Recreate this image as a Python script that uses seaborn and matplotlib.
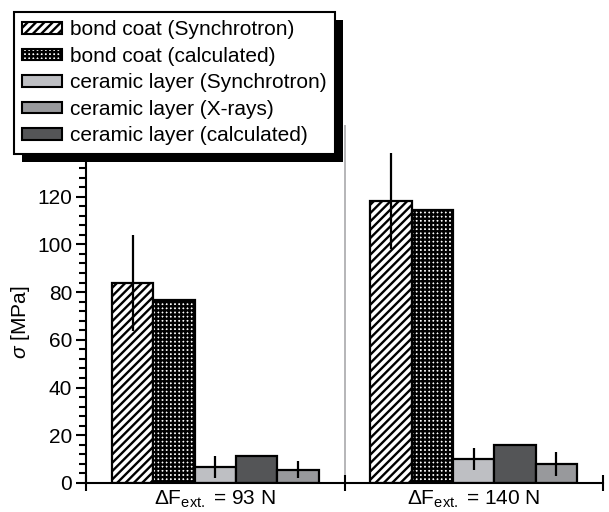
import matplotlib
matplotlib.use("Agg")
import matplotlib.pyplot as plt
import seaborn as sns
import pandas as pd
from matplotlib.patches import Rectangle, Patch
from matplotlib.ticker import MultipleLocator, FixedLocator, NullFormatter

# ---------------- data ----------------
forces = [r"$\Delta$F$_{\mathrm{ext.}}$ = 93 N", r"$\Delta$F$_{\mathrm{ext.}}$ = 140 N"]
series_plot_order = ["bond coat (Synchrotron)", "bond coat (calculated)",
                     "ceramic layer (Synchrotron)", "ceramic layer (calculated)",
                     "ceramic layer (X-rays)"]
legend_order = ["bond coat (Synchrotron)", "bond coat (calculated)",
                "ceramic layer (Synchrotron)", "ceramic layer (X-rays)",
                "ceramic layer (calculated)"]
bond_sync = [83.8, 118.2]
bond_sync_err = [20.0, 20.0]
bond_calc = [76.8, 114.3]
cer_sync = [6.7, 10.0]
cer_sync_err = [4.5, 4.5]
cer_calc = [11.5, 15.9]
cer_xray = [5.5, 7.8]
cer_xray_err = [3.6, 5.0]
yticks = [0, 20, 40, 60, 80, 100, 120, 140]

values = {
    "bond coat (Synchrotron)": bond_sync,
    "bond coat (calculated)": bond_calc,
    "ceramic layer (Synchrotron)": cer_sync,
    "ceramic layer (calculated)": cer_calc,
    "ceramic layer (X-rays)": cer_xray,
}
errors = {
    "bond coat (Synchrotron)": bond_sync_err,
    "ceramic layer (Synchrotron)": cer_sync_err,
    "ceramic layer (X-rays)": cer_xray_err,
}

rows = []
for s in series_plot_order:
    for f, v in zip(forces, values[s]):
        rows.append({"force": f, "series": s, "sigma": v})
df = pd.DataFrame(rows)

# ---------------- style ----------------
sns.set_style("ticks")
plt.rcParams["font.family"] = ["Liberation Sans", "DejaVu Sans"]
plt.rcParams["mathtext.fontset"] = "custom"
plt.rcParams["mathtext.rm"] = "Liberation Sans"
plt.rcParams["mathtext.it"] = "Liberation Sans:italic"
plt.rcParams["mathtext.bf"] = "Liberation Sans:bold"
plt.rcParams["hatch.linewidth"] = 1.7
for k in ["text.color", "axes.labelcolor", "xtick.color", "ytick.color"]:
    plt.rcParams[k] = "black"

styles = {
    "bond coat (Synchrotron)": dict(facecolor="white", hatch="////"),
    "bond coat (calculated)": dict(facecolor="white", hatch="++++"),
    "ceramic layer (Synchrotron)": dict(facecolor="#bebfc3", hatch=None),
    "ceramic layer (calculated)": dict(facecolor="#545557", hatch=None),
    "ceramic layer (X-rays)": dict(facecolor="#98999c", hatch=None),
}

fig = plt.figure(figsize=(6.09, 5.12), dpi=100)
ax = fig.add_axes([86 / 609, 29 / 512, 517 / 609, 358 / 512])

sns.barplot(data=df, x="force", y="sigma", hue="series", order=forces,
            hue_order=series_plot_order, width=0.8, errorbar=None,
            legend=False, ax=ax, palette=["white"] * 5, saturation=1)

for s, cont in zip(series_plot_order, ax.containers):
    st = styles[s]
    for bar in cont:
        bar.set_facecolor(st["facecolor"])
        bar.set_edgecolor("black")
        bar.set_linewidth(1.6)
        if st["hatch"]:
            bar.set_hatch(st["hatch"])
    if s in errors:
        xs = [b.get_x() + b.get_width() / 2 for b in cont]
        hs = [b.get_height() for b in cont]
        ax.errorbar(xs, hs, yerr=errors[s], fmt="none", ecolor="black",
                    elinewidth=1.6, capsize=0, zorder=5)

ax.axvline(0.5, color="#a9a9ab", lw=1.2, zorder=0.5)

ax.set_xlim(-0.5, 1.5)
ax.set_ylim(0, 150)
ax.yaxis.set_major_locator(FixedLocator(yticks))
ax.yaxis.set_minor_locator(MultipleLocator(4))
ax.tick_params(axis="y", which="major", length=7, width=1.5, labelsize=15, pad=3, direction="out")
ax.tick_params(axis="y", which="minor", length=5, width=1.5, direction="out")

ax.xaxis.set_major_locator(FixedLocator([-0.5, 0.5, 1.5]))
ax.xaxis.set_major_formatter(NullFormatter())
ax.set_xticks([0, 1], minor=True)
ax.set_xticklabels(forces, minor=True)
ax.tick_params(axis="x", which="major", length=12, width=1.5, direction="inout")
ax.tick_params(axis="x", which="minor", length=0, labelsize=15, pad=4)
ax.set_xlabel("")
ax.set_ylabel(r"$\sigma$ [MPa]", fontsize=15)
ax.yaxis.set_label_coords(-0.104, 0.45)

sns.despine(ax=ax)
for sp in ["left", "bottom"]:
    ax.spines[sp].set_linewidth(1.5)
    ax.spines[sp].set_color("black")

# legend
handles = []
for s in legend_order:
    st = styles[s]
    handles.append(Patch(facecolor=st["facecolor"], edgecolor="black", lw=1.5,
                         hatch=st["hatch"], label=s))
leg = fig.legend(handles=handles, loc="upper left",
                 bbox_to_anchor=(14 / 609, 1 - 12 / 512),
                 bbox_transform=fig.transFigure, fontsize=15, frameon=True,
                 fancybox=False, edgecolor="black", framealpha=1,
                 handlelength=1.9, handleheight=0.45, handletextpad=0.4,
                 labelspacing=0.36, borderpad=0.4, borderaxespad=0)
leg.get_frame().set_linewidth(1.5)
leg.set_zorder(10)

fig.canvas.draw()
bb = leg.get_window_extent()
inv = fig.transFigure.inverted()
(x0, y0) = inv.transform((bb.x0 + 8, bb.y0 - 8))
(x1, y1) = inv.transform((bb.x1 + 8, bb.y1 - 8))
shadow = Rectangle((x0, y0), x1 - x0, y1 - y0, transform=fig.transFigure,
                   facecolor="black", edgecolor="none", zorder=9)
fig.add_artist(shadow)

fig.savefig("out.png", dpi=100)
